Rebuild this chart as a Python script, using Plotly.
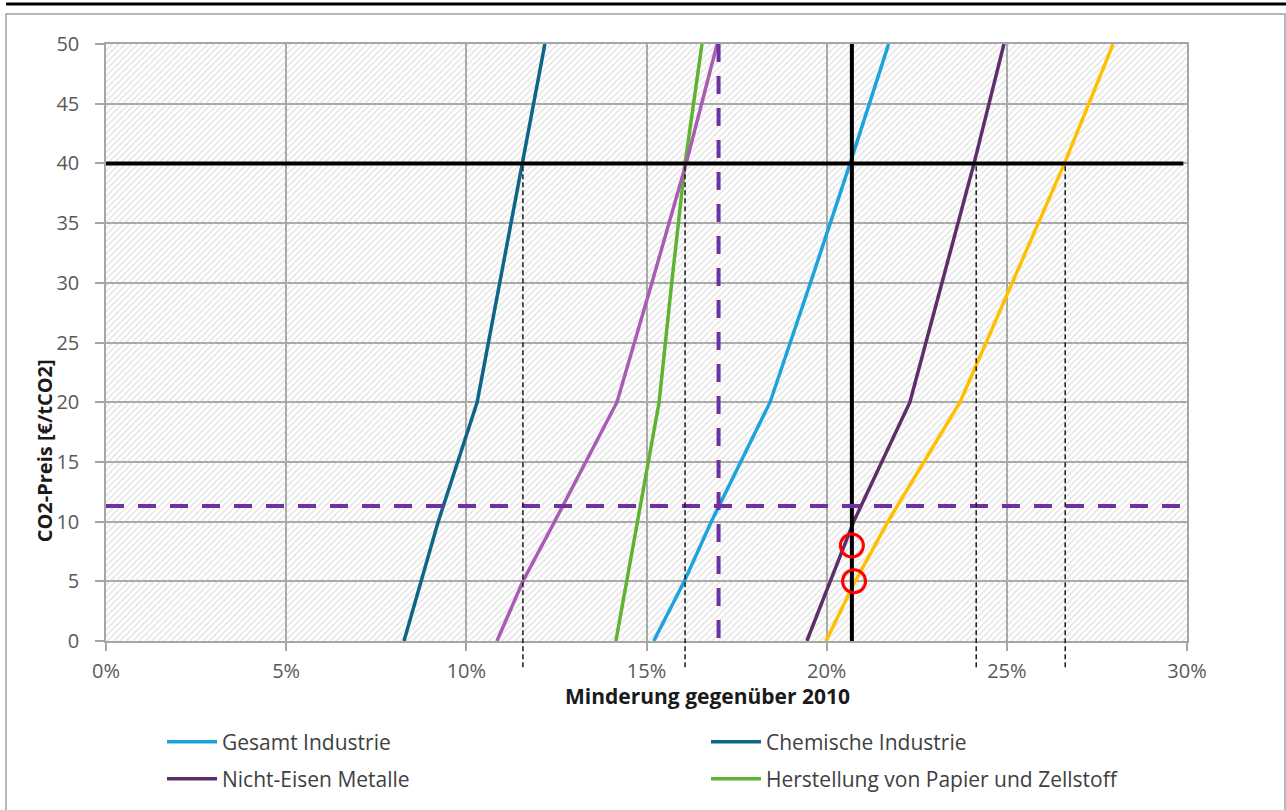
import plotly.graph_objects as go

# ---------------- data ----------------
price_levels = [0, 5, 10, 20, 30, 40, 50]  # CO2-Preis [€/tCO2]

gesamt_industrie = [15.2, 16.05, 16.8, 18.43, 19.55, 20.65, 21.72]
chemische_industrie = [8.27, 8.75, 9.22, 10.3, 10.92, 11.55, 12.18]
nicht_eisen_metalle = [19.45, 20.1, 20.75, 22.31, 23.2, 24.09, 24.92]
papier_zellstoff = [14.15, 14.45, 14.75, 15.35, 15.7, 16.07, 16.54]
weitere_branche_a = [10.85, 11.57, 12.45, 14.18, 15.15, 16.1, 16.96]
weitere_branche_b = [19.98, 20.79, 21.7, 23.7, 25.15, 26.6, 27.95]

series_names = ["Gesamt Industrie", "Chemische Industrie",
                "Nicht-Eisen Metalle", "Herstellung von Papier und Zellstoff"]

# reference lines
target_price = 40
target_reduction = 20.7
target_line_start = -0.1
target_line_end = 29.9
scenario_price = 11.3
scenario_reduction = 17.0
drop_reductions = [11.57, 16.07, 24.15, 26.62]
drop_bottom = -2.2
marker_reductions = [20.7, 20.76]
marker_prices = [8, 5]

x_range = [0, 30]
y_range = [0, 50]
x_ticks = [0, 5, 10, 15, 20, 25, 30]
x_tick_labels = ["0%", "5%", "10%", "15%", "20%", "25%", "30%"]
y_ticks = [0, 5, 10, 15, 20, 25, 30, 35, 40, 45, 50]

# ---------------- layout geometry ----------------
W, H = 1286, 810
ML, MR, MT, MB = 106, 99, 44, 168
PW, PH = W - ML - MR, H - MT - MB


def px_x(q):
    return (q - ML) / PW


def px_y(p):
    return (H - MB - p) / PH


def data_to_paper_y(v):
    return (v - y_range[0]) / (y_range[1] - y_range[0])


FONT = "Open Sans"
GRID = "#a6a6a6"

fig = go.Figure()

# hatched plot background
fig.add_trace(go.Scatter(
    x=[x_range[0], x_range[1], x_range[1], x_range[0], x_range[0]],
    y=[y_range[0], y_range[0], y_range[1], y_range[1], y_range[0]],
    mode="none", fill="toself", fillcolor="rgba(0,0,0,0)",
    fillpattern=dict(shape="/", fgcolor="#c2c2c2", bgcolor="rgba(0,0,0,0)",
                     size=4.5, solidity=0.3),
    hoverinfo="skip", showlegend=False, cliponaxis=True))

line_w = 3.5
series = [
    (gesamt_industrie, series_names[0], "#1ca3dc", "legend"),
    (chemische_industrie, series_names[1], "#0e6587", "legend2"),
    (nicht_eisen_metalle, series_names[2], "#5e2e6b", "legend3"),
    (papier_zellstoff, series_names[3], "#5eb431", "legend4"),
]
for xs, name, col, lg in series:
    fig.add_trace(go.Scatter(x=xs, y=price_levels, mode="lines", name=name,
                             line=dict(color=col, width=line_w), legend=lg))

fig.add_trace(go.Scatter(x=weitere_branche_a, y=price_levels, mode="lines",
                         line=dict(color="#a85cb4", width=line_w), showlegend=False))
fig.add_trace(go.Scatter(x=weitere_branche_b, y=price_levels, mode="lines",
                         line=dict(color="#ffc000", width=line_w), showlegend=False))

# black target lines
fig.add_trace(go.Scatter(x=[target_line_start, target_line_end],
                         y=[target_price, target_price],
                         mode="lines", line=dict(color="black", width=4),
                         showlegend=False, cliponaxis=False))
fig.add_trace(go.Scatter(x=[target_reduction, target_reduction], y=y_range,
                         mode="lines", line=dict(color="black", width=4), showlegend=False))

# purple dashed scenario lines
fig.add_trace(go.Scatter(x=x_range, y=[scenario_price, scenario_price], mode="lines",
                         line=dict(color="#7030a0", width=4, dash="18px,14px"),
                         showlegend=False))
fig.add_trace(go.Scatter(x=[scenario_reduction, scenario_reduction], y=y_range[::-1],
                         mode="lines",
                         line=dict(color="#7030a0", width=4, dash="18px,14px"),
                         showlegend=False))

# red circles
fig.add_trace(go.Scatter(x=marker_reductions, y=marker_prices, mode="markers",
                         marker=dict(symbol="circle-open", size=23, color="#ff0000",
                                     line=dict(width=3, color="#ff0000")),
                         showlegend=False))

shapes = []
# dashed drop lines from the 40 €/t line down past the axis
for xv in drop_reductions:
    shapes.append(dict(type="line", xref="x", yref="paper", x0=xv, x1=xv,
                       y0=data_to_paper_y(drop_bottom), y1=data_to_paper_y(target_price),
                       line=dict(color="#1a1a1a", width=1.5, dash="5px,3px"), layer="above"))
# outer frame and top rule
shapes.append(dict(type="rect", xref="paper", yref="paper",
                   x0=px_x(6), x1=px_x(1285), y0=px_y(830), y1=px_y(14),
                   line=dict(color="#a0a0a0", width=1.5), fillcolor="rgba(0,0,0,0)",
                   layer="below"))
shapes.append(dict(type="line", xref="paper", yref="paper",
                   x0=px_x(6), x1=px_x(1295), y0=px_y(4), y1=px_y(4),
                   line=dict(color="black", width=3)))

annotations = [
    dict(text="<b>Minderung gegenüber 2010</b>", xref="paper", yref="paper",
         x=px_x(707), y=px_y(697), xanchor="center", yanchor="middle", showarrow=False,
         font=dict(family=FONT, size=21, color="#1a1a1a")),
    dict(text="<b>CO2-Preis [€/tCO2]</b>", xref="paper", yref="paper",
         x=px_x(44), y=px_y(452), xanchor="center", yanchor="middle", showarrow=False,
         textangle=-90, font=dict(family=FONT, size=20, color="#1a1a1a")),
]

legend_font = dict(family=FONT, size=21, color="#404040")


def legend_at(qx, py):
    return dict(x=px_x(qx), y=px_y(py), xanchor="left", yanchor="middle",
                bgcolor="rgba(0,0,0,0)", font=legend_font, itemwidth=50,
                borderwidth=0)


axis_common = dict(showgrid=True, gridcolor=GRID, gridwidth=1.5, showline=True,
                   linecolor=GRID, linewidth=1.5, mirror=True, ticks="outside",
                   tickcolor=GRID, tickwidth=1.5, zeroline=False,
                   tickfont=dict(family=FONT, size=20, color="#595959"))

fig.update_layout(
    width=W, height=H, margin=dict(l=ML, r=MR, t=MT, b=MB, pad=0),
    paper_bgcolor="white", plot_bgcolor="white",
    xaxis=dict(range=x_range, tickvals=x_ticks, ticktext=x_tick_labels, ticklen=8,
               ticklabelstandoff=3, **axis_common),
    yaxis=dict(range=y_range, tickvals=y_ticks, ticklen=9, ticklabelstandoff=12,
               **axis_common),
    shapes=shapes, annotations=annotations,
    legend=legend_at(162, 742), legend2=legend_at(706, 742),
    legend3=legend_at(162, 779), legend4=legend_at(706, 779),
    showlegend=True,
)

fig.write_html("out.html")
